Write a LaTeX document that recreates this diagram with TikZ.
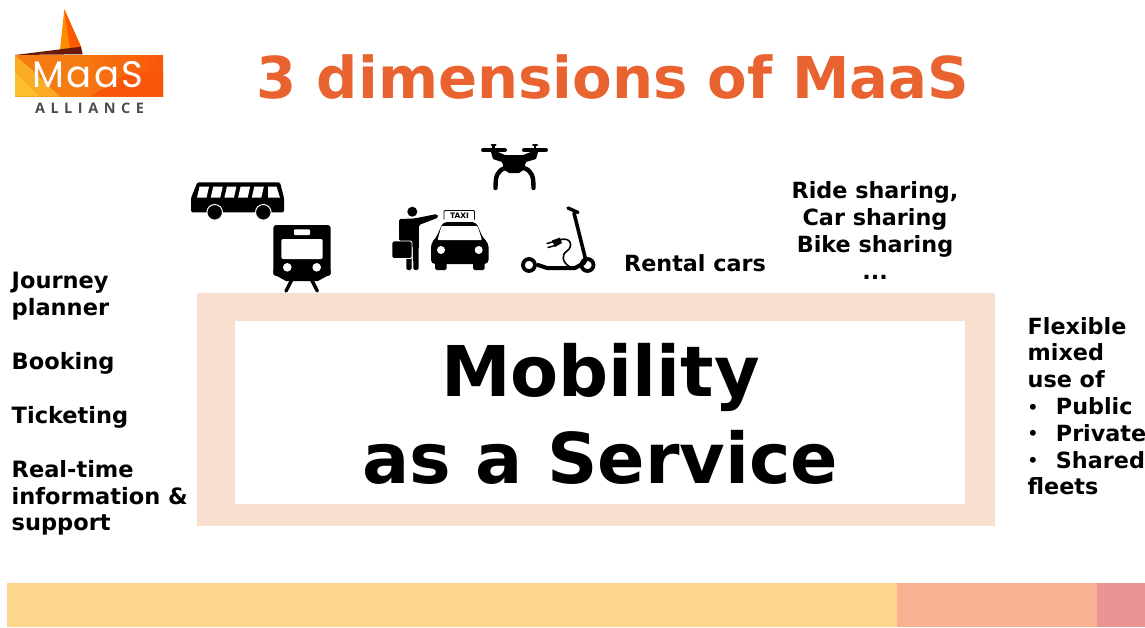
\documentclass[tikz,border=0pt]{standalone}
\usepackage{fontspec}
\setmainfont{DejaVu Sans}[BoldFont={DejaVu Sans Bold}]
\newfontfamily\logofont[LetterSpace=7]{Poppins}
\newfontfamily\allfont[LetterSpace=38]{Open Sans}
\definecolor{titleor}{HTML}{E8632F}
\definecolor{framec}{HTML}{F8DFCF}
\definecolor{bandy}{HTML}{FDD68D}
\definecolor{bando}{HTML}{F8B292}
\definecolor{bandr}{HTML}{E89593}
\definecolor{logoa}{HTML}{F57C12}
\definecolor{logob}{HTML}{F9560A}
\definecolor{logoc}{HTML}{FCC02E}
\definecolor{logod}{HTML}{6B1A05}
\newcommand{\smallbul}{\raisebox{1.5pt}{\scalebox{.75}{\textbullet}}}
\tikzset{
  lbl/.style={anchor=north west,align=left,inner sep=0pt,font=\fontsize{22.5}{26.7}\selectfont\bfseries,text=black},
  ctr/.style={anchor=north,align=center,inner sep=0pt,font=\fontsize{22.3}{27}\selectfont\bfseries,text=black},
  icon/.style={fill=black,draw=none},
  hole/.style={fill=white,draw=none},
  iline/.style={draw=black,line cap=round,line join=round},
}
\begin{document}
\begin{tikzpicture}[x=1pt,y=-1pt]
\useasboundingbox (0,0) rectangle (1145,627);
% bands
\fill[bandy] (7,583) rectangle (897,627);
\fill[bando] (897,583) rectangle (1097,627);
\fill[bandr] (1097,583) rectangle (1145,627);
% frame
\fill[framec] (197,293) rectangle (995,526);
\fill[white] (235,321) rectangle (965,504);
% title
\node[inner sep=0pt,text=titleor,font=\fontsize{57.7}{60}\selectfont\bfseries] (title) at (613,77) {3 dimensions of MaaS};
\node[inner sep=0pt,align=center,font=\fontsize{70}{87}\selectfont\bfseries] (maas) at (600.5,414) {Mobility\\as a Service};
% texts
\node[lbl] (l1) at (11.5,272) {Journey\\planner};
\node[lbl] (l2) at (11.5,352) {Booking};
\node[lbl] (l3) at (11.5,406) {Ticketing};
\node[lbl] (l4) at (11.5,460) {Real-time\\information \&\\support};
\node[lbl,anchor=north,font=\fontsize{22.3}{27}\selectfont\bfseries] (rc) at (695,254) {Rental cars};
\node[ctr] (rs) at (875,181) {Ride sharing,\\Car sharing\\Bike sharing\\...};
\node[lbl,font=\fontsize{22.3}{26.8}\selectfont\bfseries] (fx) at (1027.5,317) {Flexible\\mixed\\use of\\\smallbul\hspace{17.5pt}Public\\\smallbul\hspace{17.5pt}Private\\\smallbul\hspace{17.5pt}Shared\\fleets};
% logo
\fill[logoa] (15,55) rectangle (163,96.7);
\shade[left color=logoa,right color=logob] (75,55) rectangle (163,96.7);
\fill[logob] (90,96.7) -- (125,75) -- (163,70) -- (163,96.7) -- cycle;
\fill[logoc] (15,72) -- (40,96.7) -- (15,96.7) -- cycle;
\fill[logoc!70!logoa] (15,55) -- (32,70) -- (60,96.7) -- (40,96.7) -- (15,72) -- cycle;
\fill[orange!90!yellow] (64.3,9.3) -- (81,46.7) -- (60,50) -- cycle;
\fill[orange!70!red] (64.3,9.3) -- (81,46.7) -- (70,49) -- cycle;
\fill[logod] (15,55) -- (81,46.7) -- (82.7,54.3) -- cycle;
\node[inner sep=0pt,text=white,font=\fontsize{37}{37}\logofont] (lg) at (88,75) {MaaS};
\node[inner sep=0pt,text=black!70,font=\fontsize{14.5}{15}\allfont\bfseries] (la) at (89.5,108) {ALLIANCE};
% bus
\fill[icon,rounded corners=1.5pt] (197.3,182.3) -- (280,182.3) -- (284,198) -- (284,212.3) -- (191,212.3) -- (191,198) -- cycle;
\foreach \a in {0,1,2,3,4}{
  \fill[hole] ({199.5+13.7*\a},186.7) -- ({209+13.7*\a},186.7) -- ({206.5+13.7*\a},197.7) -- ({197+13.7*\a},197.7) -- cycle;
}
\fill[hole] (268,186.7) -- (276.5,186.7) -- (280,197.7) -- (268,197.7) -- cycle;
\fill[icon,draw=white,line width=1pt] (214.7,212.3) circle (7.8);
\fill[icon,draw=white,line width=1pt] (263.3,212.3) circle (7.8);
% train
\fill[icon,rounded corners=3pt] (273.3,225) rectangle (330.7,276);
\fill[icon] (273.3,270) -- (330.7,270) -- (330.7,274) -- (318,281) -- (286,281) -- (273.3,274) -- cycle;
\fill[hole,rounded corners=1pt] (294,229.3) rectangle (310,235);
\fill[hole,rounded corners=2pt] (281.3,239) rectangle (322.7,259);
\fill[hole] (287.3,267.3) circle (4.3);
\fill[hole] (316.7,267.3) circle (4.3);
\draw[iline,line width=3.4pt] (291.7,280) -- (286,291);
\draw[iline,line width=3.4pt] (311.7,280) -- (317.3,291);
% drone
\draw[iline,line width=4pt] (483,150) -- (505,150);
\draw[iline,line width=4pt] (524,150) -- (546,150);
\draw[iline,line width=2.2pt] (493.5,145.5) -- (493.5,150) (535,145.5) -- (535,150);
\draw[iline,line width=2pt] (491.5,145) -- (495.5,145) (533,145) -- (537,145);
\fill[icon] (491,152) -- (498,152) -- (505,155) -- (523,155) -- (531,152) -- (538,152) -- (536,159) -- (526,162) -- (523.5,170) -- (519,173) -- (509,173) -- (504.5,170) -- (502,162) -- (493,159) -- cycle;
\draw[iline,line width=4.4pt] (505,168) .. controls (497,171) and (495.5,176) .. (495.5,188);
\draw[iline,line width=4.4pt] (524,168) .. controls (532,171) and (533.5,176) .. (533.5,188);
% person
\fill[icon] (412.3,211.7) circle (5);
\fill[icon,rounded corners=1.5pt] (399,219) -- (414,218.5) -- (437,214) -- (438.5,217.5) -- (419,225) -- (418.5,270) -- (413.5,270) -- (412.8,246) -- (412,246) -- (411.5,270) -- (406.5,270) -- (406,241) -- (399,241) -- cycle;
\fill[icon,rounded corners=1.5pt,draw=white,line width=.8pt] (392,241) rectangle (412,258.5);
% taxi
\draw[black,line width=.9pt,rounded corners=1pt] (444,219.5) -- (444,210.5) -- (474.5,210.5) -- (474.5,219.5);
\node[inner sep=0pt,font=\fontsize{7.5}{8}\selectfont\bfseries] (tx) at (459.5,216) {TAXI};
\fill[icon,rounded corners=4pt] (443,222) -- (476,222) -- (483,238) -- (488.5,243) -- (488.5,264) -- (431,264) -- (431,243) -- (436,238) -- cycle;
\fill[hole,rounded corners=1pt] (441.5,226) -- (477.5,226) -- (482,240) -- (437.5,240) -- cycle;
\fill[hole] (441,250) circle (4);
\fill[hole] (478.7,250) circle (4);
\fill[icon,rounded corners=1.5pt] (435,262) rectangle (446.5,270);
\fill[icon,rounded corners=1.5pt] (473,262) rectangle (484.5,270);
% scooter
\draw[iline,line width=3.8pt] (529,265) circle (6);
\draw[iline,line width=3.8pt] (587.5,265) circle (6);
\draw[iline,line width=4pt] (538,265) -- (547,268) -- (575,268) -- (584,263);
\draw[iline,line width=3.6pt] (574,213) -- (586,261);
\draw[iline,line width=3.4pt] (568,208) -- (578,212.5);
\draw[iline,line width=1.6pt] (559,240) .. controls (572,236) and (573,247) .. (567,251) .. controls (561,255) and (562,262) .. (570,267);
\fill[icon] (552,240.5) -- (560,237.5) -- (562,243) -- (555,247) -- cycle;
\draw[iline,line width=1.5pt] (547,243.5) -- (554,241.5) (548,247.5) -- (555,245.5);
\end{tikzpicture}
\end{document}
